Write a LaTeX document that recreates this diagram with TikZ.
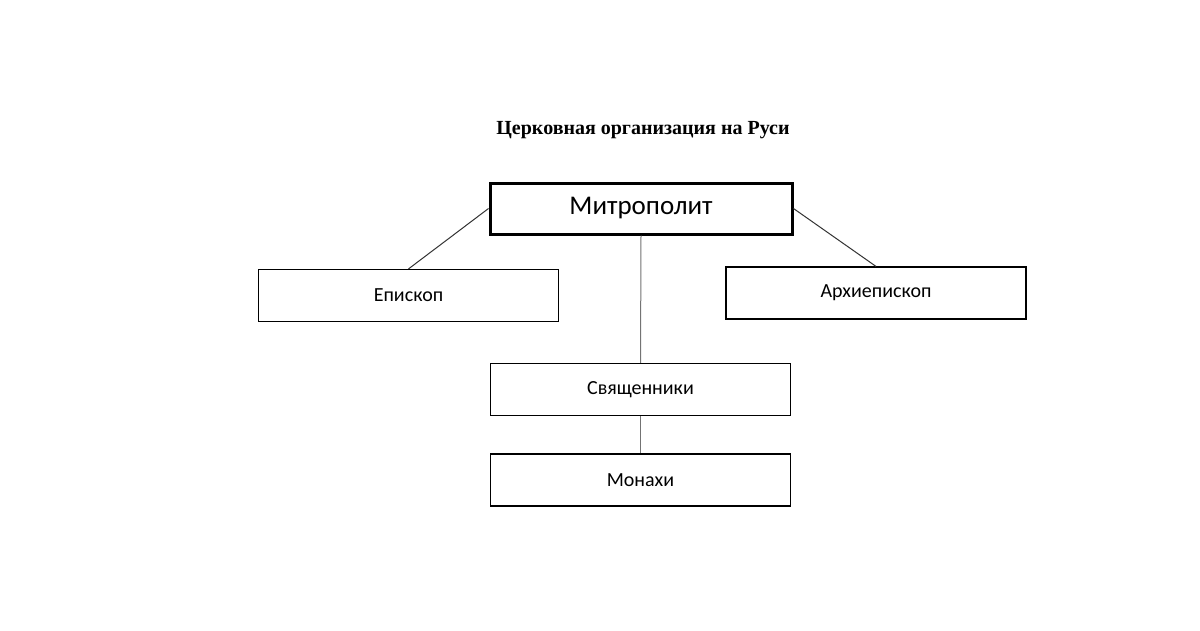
\documentclass[tikz,border=0pt]{standalone}
\usepackage{fontspec}
\setmainfont{Carlito}
\newfontfamily\titlefont{Liberation Serif}
\begin{document}
\begin{tikzpicture}[x=1pt,y=-1pt,
  box/.style={draw,line width=1.2pt,minimum width=300pt,minimum height=52pt,inner sep=0pt,font=\fontsize{20}{24}\selectfont},
  link/.style={draw=black!80,line width=1pt}]
\useasboundingbox[fill=white] (0,0) rectangle (1200,630);
\node[font=\titlefont\bfseries\fontsize{20}{24}\selectfont] (t) at (643,130) {Церковная организация на Руси};
\node[box,line width=3pt,minimum width=302pt,minimum height=51pt,font=\fontsize{27}{32}\selectfont] (m) at (641,208.5) {Митрополит};
\node[box] (e) at (408.5,295.5) {Епископ};
\node[box] (a) at (876,293) {Архиепископ};
\node[box] (s) at (640.5,389.5) {Священники};
\node[box] (mo) at (640.5,480) {Монахи};
\draw[link] (m.west) -- (e.north);
\draw[link] (m.east) -- (a.north);
\draw[link,draw=black!55] (m.south) -- (s.north);
\draw[link,draw=black!55] (s.south) -- (mo.north);
\end{tikzpicture}
\end{document}
